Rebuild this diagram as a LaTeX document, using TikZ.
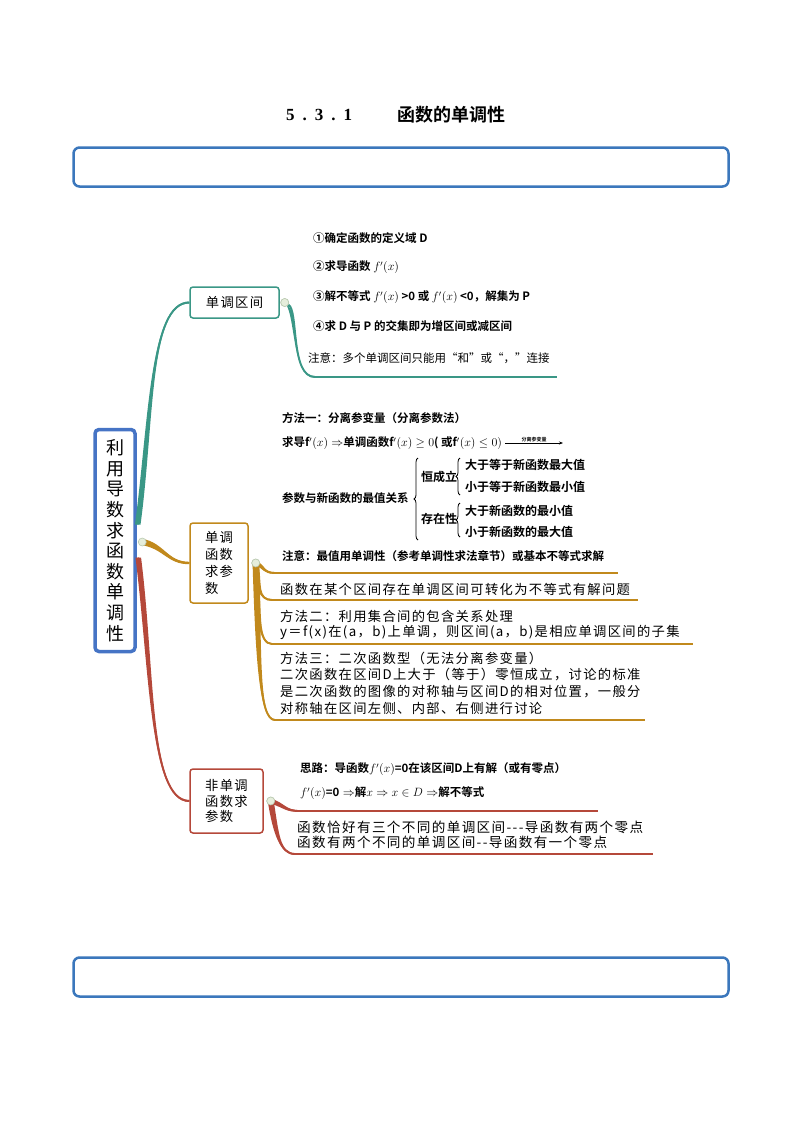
\documentclass[tikz,border=0pt]{standalone}
\usepackage{fontspec}
\setmainfont{Noto Sans CJK SC}[BoldFont={Noto Sans CJK SC Bold}]
\newfontfamily\widefont[LetterSpace=10]{Noto Sans CJK SC}
\newfontfamily\tmsfont{Liberation Serif}
\usetikzlibrary{decorations.pathreplacing,calc,arrows.meta}
\definecolor{tealc}{HTML}{3A9786}
\definecolor{goldc}{HTML}{C1891C}
\definecolor{redc}{HTML}{B5483A}
\definecolor{mainblue}{HTML}{4674C5}
\definecolor{boxblue}{HTML}{3B77BC}
\definecolor{dotfill}{HTML}{E6EEDC}
\definecolor{dotdraw}{HTML}{B9C9B0}
\newcommand\fbold{\bfseries\fontsize{11.5}{13}\selectfont}
\newcommand\fbig{\bfseries\fontsize{12}{13}\selectfont}
\newcommand\freg{\widefont\fontsize{13.3}{16}\selectfont}
\newcommand\fsubbox{\widefont\fontsize{13.3}{16.7}\selectfont}
% tapered curve: colour, start, end, c1 offset, c2 offset, half-width at start, half-width at end
\newcommand\tapr[7]{\fill[#1] ($#2+#6$) .. controls ($#2+#4+#6$) and ($#3+#5+#7$) .. ($#3+#7$) -- ($#3-#7$) .. controls ($#3+#5-#7$) and ($#2+#4-#6$) .. ($#2-#6$) -- cycle;
\draw[#1,line width=1.9pt] #2 .. controls +#4 and +#5 .. #3;}
\begin{document}
\begin{tikzpicture}[x=1pt,y=-1pt,
  bluebox/.style={draw=boxblue,line width=2.5pt,rounded corners=6pt,minimum width=655pt,minimum height=39pt},
  mainbox/.style={draw=mainblue,line width=3.5pt,rounded corners=4pt,minimum width=40pt,minimum height=222pt,align=center,inner sep=0pt,font=\fontsize{18}{20.6}\selectfont},
  subbox/.style={line width=1.5pt,rounded corners=3pt,align=left,inner sep=0pt,font=\fsubbox},
  dotn/.style={circle,draw=dotdraw,fill=dotfill,line width=0.6pt,inner sep=0pt,minimum size=8pt},
  bt/.style={anchor=west,inner sep=0pt,font=\fbold},
  bt2/.style={anchor=west,inner sep=0pt,font=\fbig},
  rt/.style={anchor=west,inner sep=0pt,font=\freg},
  hl/.style={line width=1.8pt},
  brace/.style={decorate,decoration={brace,amplitude=4pt},line width=0.8pt}
]
\useasboundingbox (0,0) rectangle (793,1122);
% title
\node[anchor=west,inner sep=0pt,font=\tmsfont\bfseries\fontsize{17}{18}\selectfont] (titleA) at (286,115) {5\hspace{8pt}.\hspace{8pt}3\hspace{8pt}.\hspace{8pt}1};
\node[anchor=west,inner sep=0pt,font=\bfseries\fontsize{18}{18}\selectfont] (titleB) at (397,115) {函数的单调性};
% top and bottom boxes
\node[bluebox] (topbox) at (401,167) {};
\node[bluebox] (botbox) at (401,977) {};
% sub boxes
\node[subbox,draw=tealc,minimum width=89pt,minimum height=31pt,align=center] (boxA) at (234.5,302.5) {单调区间};
\node[subbox,draw=goldc,minimum width=58pt,minimum height=80pt] (boxB) at (219,563) {单调\\函数\\求参\\数};
\node[subbox,draw=redc,minimum width=73pt,minimum height=64pt,font=\widefont\fontsize{13.3}{15.7}\selectfont] (boxC) at (226.5,801) {非单调\\函数求\\参数};
% main node
\node[mainbox] (main) at (115,540.5) {利\\用\\导\\数\\求\\函\\数\\单\\调\\性};
% main branches
\coordinate (mA) at ($(main.east)+(1,-16)$);
\coordinate (mC) at ($(main.east)+(1.5,17)$);
\coordinate (m0) at ($(main.east)+(5.5,1.5)$);
\tapr{tealc}{(mA)}{(boxA.west)}{(14,-104)}{(-40,0)}{(-2.8,0)}{(0,-1)}
\tapr{redc}{(mC)}{(boxC.west)}{(14,110)}{(-40,0)}{(-2.8,0)}{(0,1)}
\tapr{goldc}{(m0)}{(boxB.west)}{(22,4)}{(-22,0)}{(0,-3.2)}{(0,-1.2)}
\node[dotn] (d0) at (m0) {};
% teal sub
\node[dotn] (dA) at ($(boxA.east)+(5,0)$) {};
\coordinate (a1s) at (315,377);
\coordinate (a1e) at (557,377);
\tapr{tealc}{(dA)}{(a1s)}{(14,8)}{(-25,0)}{(-2,-2)}{(0,0.9)}
\draw[hl,tealc] (a1s) -- (a1e);
\node[dotn] (dA2) at (dA) {};
% gold sub
\node[dotn] (dB) at ($(boxB.east)+(7,0)$) {};
\coordinate (g1s) at (275,573); \coordinate (g1e) at (618,573);
\coordinate (g2s) at (272,600); \coordinate (g2e) at (638,600);
\coordinate (g3s) at (272,644); \coordinate (g3e) at (693,644);
\coordinate (g4s) at (275,720); \coordinate (g4e) at (645,720);
\tapr{goldc}{(dB)}{(g1s)}{(8,3)}{(-12,0)}{(0,-2.6)}{(0,-0.9)}
\tapr{goldc}{(dB)}{(g2s)}{(3,22)}{(-14,0)}{(-3,0)}{(0,0.9)}
\tapr{goldc}{(dB)}{(g3s)}{(3,50)}{(-14,0)}{(-3,0)}{(0,0.9)}
\tapr{goldc}{(dB)}{(g4s)}{(3,95)}{(-16,0)}{(-3.2,0)}{(0,0.9)}
\draw[hl,goldc] (g1s) -- (g1e);
\draw[hl,goldc] (g2s) -- (g2e);
\draw[hl,goldc] (g3s) -- (g3e);
\draw[hl,goldc] (g4s) -- (g4e);
\node[dotn] (dB2) at (dB) {};
% red sub
\node[dotn] (dC) at ($(boxC.east)+(7,0)$) {};
\coordinate (r1s) at (300,811); \coordinate (r1e) at (598,811);
\coordinate (r2s) at (295,854); \coordinate (r2e) at (653,854);
\tapr{redc}{(dC)}{(r1s)}{(15,5)}{(-15,0)}{(0,-2.6)}{(0,-0.9)}
\tapr{redc}{(dC)}{(r2s)}{(5,32)}{(-15,0)}{(-3,0)}{(0,0.9)}
\draw[hl,redc] (r1s) -- (r1e);
\draw[hl,redc] (r2s) -- (r2e);
\node[dotn] (dC2) at (dC) {};
% teal texts
\node[bt] (tA1) at (313,238) {①确定函数的定义域 D};
\node[bt] (tA2) at (313,267) {②求导函数 $f'(x)$};
\node[bt] (tA3) at (313,297) {③解不等式 $f'(x)$ >0 或 $f'(x)$ <0，解集为 P};
\node[bt] (tA4) at (313,326) {④求 D 与 P 的交集即为增区间或减区间};
\node[anchor=west,inner sep=0pt,font=\fontsize{11.5}{13}\selectfont] (tA5) at (308,358) {注意：多个单调区间只能用“和”或“，”连接};
% gold texts
\node[bt] (tB1) at (282,418) {方法一：分离参变量（分离参数法）};
\node[bt] (tB2) at (282,443) {求导f$'(x)\Rightarrow$单调函数f$'(x)\geq0$( 或f$'(x)\leq0)$};
\coordinate (arr1) at (505,443);
\coordinate (arr2) at (563,443);
\draw[-{Stealth[length=4pt]},line width=0.6pt] (arr1) -- (arr2) node[midway,above=0.5pt,inner sep=0pt,font=\bfseries\fontsize{5}{6}\selectfont] (arrlab) {分离参变量};
\node[bt] (tB3) at (282,498) {参数与新函数的最值关系};
\coordinate (bb1) at (418,540); \coordinate (bb2) at (418,458);
\draw[brace] (bb1) -- (bb2);
\node[bt2] (tB4) at (421,477) {恒成立};
\node[bt2] (tB5) at (421,519) {存在性};
\coordinate (sb1) at (460,495); \coordinate (sb2) at (460,458);
\coordinate (sb3) at (460,537); \coordinate (sb4) at (460,503);
\draw[brace] (sb1) -- (sb2);
\draw[brace] (sb3) -- (sb4);
\node[bt2] (tB6) at (465,465) {大于等于新函数最大值};
\node[bt2] (tB7) at (465,487) {小于等于新函数最小值};
\node[bt2] (tB8) at (465,511) {大于新函数的最小值};
\node[bt2] (tB9) at (465,532) {小于新函数的最大值};
\node[bt] (tB10) at (282,556) {注意：最值用单调性（参考单调性求法章节）或基本不等式求解};
\node[rt] (tB11) at (280,589) {函数在某个区间存在单调区间可转化为不等式有解问题};
\node[rt] (tB12) at (280,616) {方法二：利用集合间的包含关系处理};
\node[rt] (tB13) at (280,632) {y＝f(x)在(a，b)上单调，则区间(a，b)是相应单调区间的子集};
\node[rt] (tB14) at (280,658) {方法三：二次函数型（无法分离参变量）};
\node[rt] (tB15) at (280,675) {二次函数在区间D上大于（等于）零恒成立，讨论的标准};
\node[rt] (tB16) at (280,692) {是二次函数的图像的对称轴与区间D的相对位置，一般分};
\node[rt] (tB17) at (280,708) {对称轴在区间左侧、内部、右侧进行讨论};
% red texts
\node[bt] (tC1) at (300,769) {思路：导函数$f'(x)$=0在该区间D上有解（或有零点）};
\node[bt] (tC2) at (300,793) {$f'(x)$=0$\;\Rightarrow$解$x\Rightarrow x\in D\Rightarrow$解不等式};
\node[rt,font=\widefont\fontsize{13.6}{15}\selectfont] (tC3) at (297,827) {函数恰好有三个不同的单调区间---导函数有两个零点};
\node[rt,font=\widefont\fontsize{13.6}{15}\selectfont] (tC4) at (297,842) {函数有两个不同的单调区间--导函数有一个零点};
\end{tikzpicture}
\end{document}
